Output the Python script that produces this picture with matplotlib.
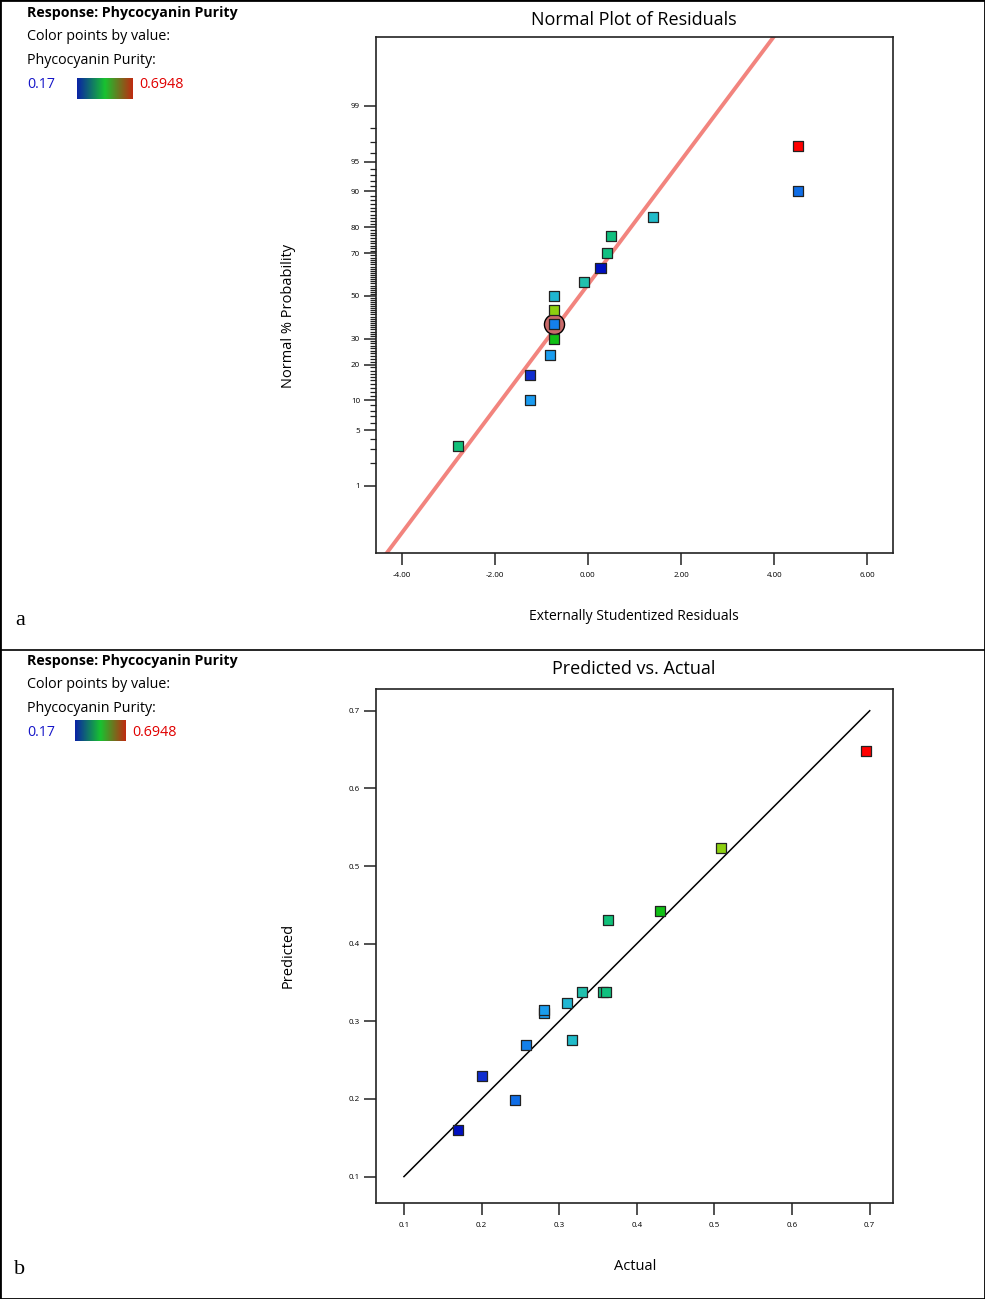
import statistics

import numpy as np
import matplotlib
matplotlib.use("Agg")
import matplotlib.pyplot as plt
from matplotlib.colors import LinearSegmentedColormap, Normalize
from matplotlib.patches import Rectangle
from matplotlib.lines import Line2D

plt.rcParams["font.family"] = ["Open Sans", "DejaVu Sans"]
plt.rcParams["axes.unicode_minus"] = False

W, H = 985, 1299

# ─── Data ───────────────────────────────────────────────────────────────────

# (a) normal plot of residuals, runs in rank order
resid = [-2.78, -1.25, -1.25, -0.82, -0.72, -0.72, -0.72, -0.72,
         -0.09, 0.27, 0.40, 0.49, 1.39, 4.52, 4.52]
norm_prob = [3.3, 10.0, 16.7, 23.3, 30.0, 36.7, 43.3, 50.0,
             56.7, 63.3, 70.0, 76.7, 83.3, 90.0, 96.7]
resid_actual = [0.363, 0.280, 0.200, 0.281, 0.430, 0.257, 0.509, 0.310,
                0.329, 0.170, 0.357, 0.360, 0.317, 0.243, 0.6948]
highlight = 5  # circled run

ref_line_resid = [-4.6, 4.2]
ref_line_prob = [0.0384, 99.957]

prob_major = [1, 5, 10, 20, 30, 50, 70, 80, 90, 95, 99]
resid_ticks = [-4, -2, 0, 2, 4, 6]

# (b) predicted vs actual
actual = [0.170, 0.200, 0.243, 0.257, 0.280, 0.281, 0.310, 0.317,
          0.329, 0.357, 0.360, 0.363, 0.430, 0.509, 0.6948]
predicted = [0.160, 0.230, 0.199, 0.270, 0.311, 0.314, 0.323, 0.276,
             0.338, 0.338, 0.338, 0.431, 0.442, 0.523, 0.648]
pva_ticks = [0.1, 0.2, 0.3, 0.4, 0.5, 0.6, 0.7]

vmin, vmax = 0.17, 0.6948

# ─── Styles ─────────────────────────────────────────────────────────────────

point_cmap = LinearSegmentedColormap.from_list("purity", [
    (0.00, "#0010c0"), (0.06, "#1030d0"), (0.14, "#1070e8"),
    (0.21, "#1a9cf0"), (0.27, "#20b8d0"), (0.29, "#20c0c0"),
    (0.31, "#20c0a0"), (0.36, "#10c080"), (0.50, "#10c010"),
    (0.65, "#90d010"), (0.82, "#f0b000"), (1.00, "#ff0000")])
legend_cmap = LinearSegmentedColormap.from_list(
    "legend", ["#0a22a6", "#18c230", "#c02a10"])
norm = Normalize(vmin, vmax)

nd = statistics.NormalDist()
_ppf = np.vectorize(nd.inv_cdf)
_cdf = np.vectorize(nd.cdf)


def prob_forward(p):
    p = np.clip(np.asarray(p, dtype=float) / 100.0, 1e-12, 1 - 1e-12)
    return _ppf(p)


def prob_inverse(z):
    return _cdf(np.asarray(z, dtype=float)) * 100.0


def px(x, y):
    """Pixel position (from top-left) to figure fraction."""
    return x / W, 1 - y / H


def style_axes(ax):
    for s in ax.spines.values():
        s.set_linewidth(1.2)
        s.set_color("#222222")
    ax.tick_params(which="major", direction="out", length=8.5, width=1.1,
                   labelsize=5.8, pad=3, color="#222222")
    ax.tick_params(axis="x", which="major", pad=5)
    ax.tick_params(which="minor", direction="out", length=4.3, width=0.9,
                   color="#222222")


def legend_block(y0, bar):
    x, y, w, h = bar
    fig.text(*px(27, y0), "Response: Phycocyanin Purity", fontsize=10.2,
             fontweight="bold", va="center")
    fig.text(*px(27, y0 + 24), "Color points by value:", fontsize=10.3, va="center")
    fig.text(*px(27, y0 + 48), "Phycocyanin Purity:", fontsize=10.3, va="center")
    fig.text(*px(27, y0 + 72), "0.17", fontsize=10.3, va="center", color="#1515c8")
    fig.text(*px(x + w + 6, y0 + 72), "0.6948", fontsize=10.3, va="center",
             color="#e00000")
    cax = fig.add_axes([x / W, 1 - (y + h) / H, w / W, h / H])
    cax.imshow(np.linspace(0, 1, 256)[None, :], aspect="auto", cmap=legend_cmap)
    cax.set_axis_off()


fig = plt.figure(figsize=(W / 100, H / 100), dpi=100)

# ─── (a) Normal plot of residuals ───────────────────────────────────────────

ax1 = fig.add_axes([376 / W, 1 - 553 / H, 517 / W, 516 / H])
ax1.set_yscale("function", functions=(prob_forward, prob_inverse))
ax1.plot(ref_line_resid, ref_line_prob, color="#f2847e", lw=2.8, zorder=2,
         solid_capstyle="butt")
ax1.scatter([resid[highlight]], [norm_prob[highlight]], s=210, marker="o",
            facecolor="#c86a6a", edgecolor="black", linewidth=1.0, zorder=3)
ax1.scatter(resid, norm_prob, c=resid_actual, cmap=point_cmap, norm=norm,
            marker="s", s=52, edgecolor="#222222", linewidth=0.9, zorder=4)
ax1.set_xlim(-4.55, 6.55)
ax1.set_ylim(prob_inverse(-3.15), prob_inverse(3.17))
ax1.set_xticks(resid_ticks)
ax1.set_xticklabels([f"{v:.2f}" for v in resid_ticks])
ax1.set_yticks(prob_major)
ax1.set_yticklabels([str(v) for v in prob_major])
ax1.set_yticks([v for v in range(1, 100) if v not in prob_major], minor=True)
ax1.tick_params(axis="x", which="minor", bottom=False)
style_axes(ax1)

fig.text(*px(634, 20), "Normal Plot of Residuals", fontsize=13,
         ha="center", va="center")
fig.text(*px(634, 617), "Externally Studentized Residuals", fontsize=10,
         ha="center", va="center")
fig.text(*px(288, 316), "Normal % Probability", fontsize=10.5, rotation=90,
         ha="center", va="center")
legend_block(13, (77, 78, 56, 21))
fig.text(*px(20, 620), "a", fontsize=16, family="Liberation Serif",
         ha="center", va="center")

# ─── (b) Predicted vs actual ────────────────────────────────────────────────

ax2 = fig.add_axes([376 / W, 1 - 1203 / H, 517 / W, 514 / H])
ax2.plot([pva_ticks[0], pva_ticks[-1]], [pva_ticks[0], pva_ticks[-1]],
         color="black", lw=1.1, zorder=2)
ax2.scatter(actual, predicted, c=actual, cmap=point_cmap, norm=norm,
            marker="s", s=52, edgecolor="#222222", linewidth=0.9, zorder=4)
ax2.set_xlim(0.064, 0.730)
ax2.set_ylim(0.066, 0.728)
ax2.set_xticks(pva_ticks)
ax2.set_xticklabels([f"{v:.1f}" for v in pva_ticks])
ax2.set_yticks(pva_ticks)
ax2.set_yticklabels([f"{v:.1f}" for v in pva_ticks])
style_axes(ax2)

fig.text(*px(634, 669), "Predicted vs. Actual", fontsize=13,
         ha="center", va="center")
fig.text(*px(635, 1266), "Actual", fontsize=10.5, ha="center", va="center")
fig.text(*px(288, 955), "Predicted", fontsize=10.5, rotation=90,
         ha="center", va="center")
legend_block(661, (75, 720, 51, 21))
fig.text(*px(20, 1270), "b", fontsize=16, family="Liberation Serif",
         ha="center", va="center")

# frame and panel divider
fig.add_artist(Rectangle((0, 0), 1, 1, transform=fig.transFigure,
                         fill=False, lw=2, ec="black"))
fig.add_artist(Line2D([0, 1], [1 - 650 / H] * 2, transform=fig.transFigure,
                      lw=1.2, color="black"))

fig.savefig("out.png", dpi=100)
plt.close(fig)
